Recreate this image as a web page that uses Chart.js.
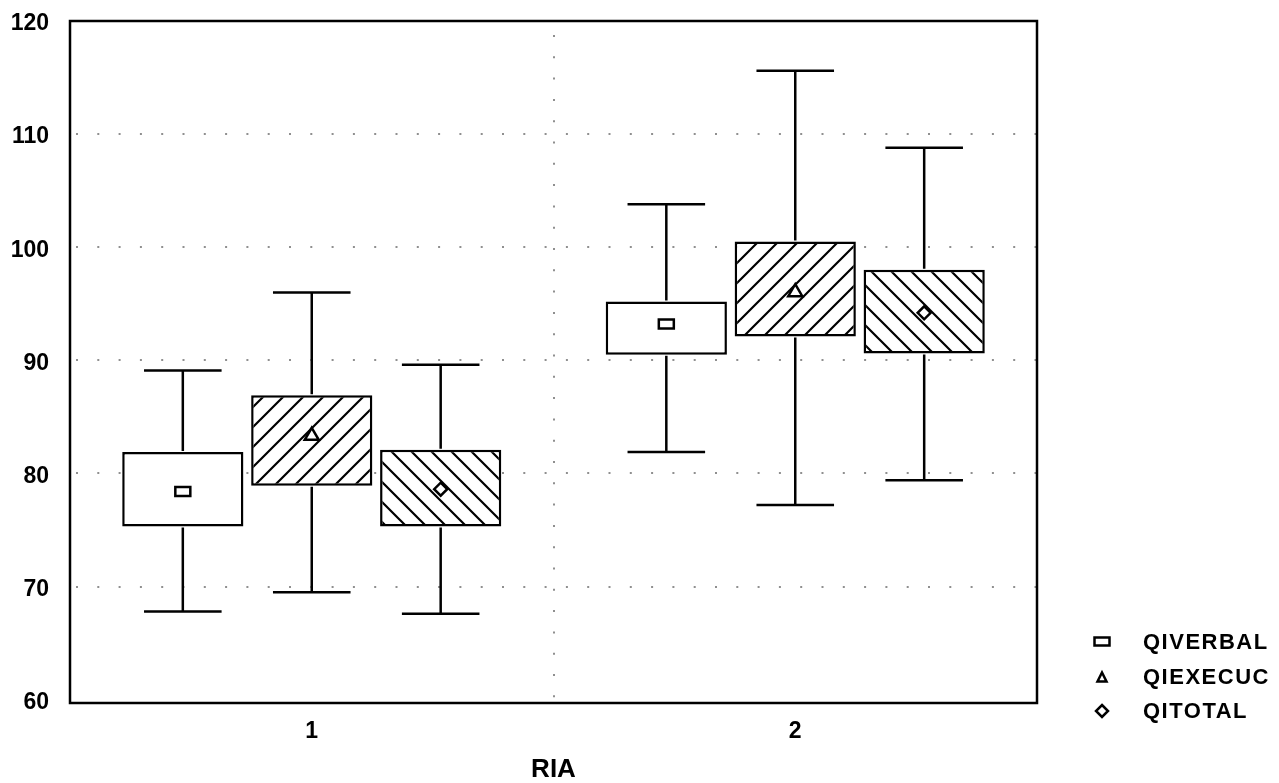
<!DOCTYPE html>
<html lang="pt">
<head>
    <meta charset="UTF-8">
    <title>RIA - QI</title>
    <script src="https://cdn.jsdelivr.net/npm/chart.js"></script>
    <style>
        html, body { margin: 0; padding: 0; background: #ffffff; }
        .chart-box { width: 1279px; height: 783px; }
    </style>
</head>
<body>
    <div class="chart-box"><canvas id="riaChart"></canvas></div>

    <script>
        const categories = ['1', '2'];
        const seriesNames = ['QIVERBAL', 'QIEXECUC', 'QITOTAL'];

        // mean, box [low, high], whisker [low, high]
        const qiverbalMean = [78.4, 93.2];
        const qiverbalBox = [[75.3, 81.9], [90.5, 95.2]];
        const qiverbalWhisker = [[67.8, 89.1], [81.9, 103.8]];

        const qiexecucMean = [83.5, 96.2];
        const qiexecucBox = [[78.9, 86.9], [92.1, 100.5]];
        const qiexecucWhisker = [[69.5, 96.0], [77.2, 115.6]];

        const qitotalMean = [78.6, 94.2];
        const qitotalBox = [[75.3, 82.1], [90.6, 98.0]];
        const qitotalWhisker = [[67.6, 89.6], [79.4, 108.8]];

        const meanSets = [qiverbalMean, qiexecucMean, qitotalMean];
        const boxSets = [qiverbalBox, qiexecucBox, qitotalBox];
        const whiskerSets = [qiverbalWhisker, qiexecucWhisker, qitotalWhisker];
        const markers = ['rect', 'triangle', 'diamond'];

        const font = '"Liberation Sans", Arial, sans-serif';

        // hatch fill on white
        function hatch(dir) {
            const s = 20;
            const c = document.createElement('canvas');
            c.width = s; c.height = s;
            const g = c.getContext('2d');
            g.fillStyle = '#fff';
            g.fillRect(0, 0, s, s);
            g.strokeStyle = '#000';
            g.lineWidth = 2.2;
            g.beginPath();
            if (dir === '/') {
                g.moveTo(-2, s + 2); g.lineTo(s + 2, -2);
                g.moveTo(-3, 3); g.lineTo(3, -3);
                g.moveTo(s - 3, s + 3); g.lineTo(s + 3, s - 3);
            } else {
                g.moveTo(-2, -2); g.lineTo(s + 2, s + 2);
                g.moveTo(s - 3, -3); g.lineTo(s + 3, 3);
                g.moveTo(-3, s - 3); g.lineTo(3, s + 3);
            }
            g.stroke();
            return g.createPattern(c, 'repeat');
        }

        const fills = ['#ffffff', hatch('/'), hatch('\\')];

        function drawMarker(ctx, kind, x, y, big) {
            ctx.save();
            ctx.fillStyle = '#fff';
            ctx.strokeStyle = '#000';
            ctx.lineWidth = 2.5;
            ctx.beginPath();
            if (kind === 'rect') {
                ctx.rect(x - 7.5, y - 4.5, 15, big ? 9 : 8);
            } else if (kind === 'triangle') {
                const w = big ? 7 : 4.5, h = big ? 6 : 4.5;
                ctx.moveTo(x, y - h);
                ctx.lineTo(x + w, y + h);
                ctx.lineTo(x - w, y + h);
                ctx.closePath();
            } else {
                const r = big ? 6.5 : 6;
                ctx.moveTo(x, y - r);
                ctx.lineTo(x + r, y);
                ctx.lineTo(x, y + r);
                ctx.lineTo(x - r, y);
                ctx.closePath();
            }
            ctx.fill();
            ctx.stroke();
            ctx.restore();
        }

        // whiskers, means, frame and legend
        const boxExtras = {
            id: 'boxExtras',
            afterDatasetsDraw(chart) {
                const ctx = chart.ctx;
                const y = chart.scales.y;
                chart.data.datasets.forEach((ds, i) => {
                    const meta = chart.getDatasetMeta(i);
                    meta.data.forEach((bar, j) => {
                        const x = bar.x;
                        const half = bar.width * 0.32;
                        const wLow = y.getPixelForValue(ds.whisker[j][0]);
                        const wHigh = y.getPixelForValue(ds.whisker[j][1]);
                        const bLow = y.getPixelForValue(ds.data[j][0]);
                        const bHigh = y.getPixelForValue(ds.data[j][1]);
                        ctx.save();
                        ctx.strokeStyle = '#000';
                        ctx.lineWidth = 2.5;
                        ctx.beginPath();
                        ctx.moveTo(x, bHigh - 1); ctx.lineTo(x, wHigh);
                        ctx.moveTo(x - half, wHigh); ctx.lineTo(x + half, wHigh);
                        ctx.moveTo(x, bLow + 1); ctx.lineTo(x, wLow);
                        ctx.moveTo(x - half, wLow); ctx.lineTo(x + half, wLow);
                        ctx.stroke();
                        ctx.restore();
                        drawMarker(ctx, ds.marker, x, y.getPixelForValue(ds.mean[j]), true);
                    });
                });

                const a = chart.chartArea;
                ctx.save();
                ctx.strokeStyle = '#000';
                ctx.lineWidth = 2.5;
                ctx.strokeRect(a.left, a.top, a.right - a.left, a.bottom - a.top);
                ctx.restore();
            },
            afterDraw(chart) {
                const ctx = chart.ctx;
                const rows = [642, 677, 711];
                ctx.save();
                ctx.font = 'bold 22px ' + font;
                ctx.fillStyle = '#000';
                ctx.textBaseline = 'middle';
                ctx.letterSpacing = '1.5px';
                chart.data.datasets.forEach((ds, i) => {
                    drawMarker(ctx, ds.marker, 1102, rows[i], false);
                    ctx.fillText(ds.label, 1143, rows[i] + 1);
                });
                ctx.restore();
            }
        };

        new Chart(document.getElementById('riaChart'), {
            type: 'bar',
            data: {
                labels: categories,
                datasets: seriesNames.map((name, i) => ({
                    label: name,
                    data: boxSets[i],
                    whisker: whiskerSets[i],
                    mean: meanSets[i],
                    marker: markers[i],
                    backgroundColor: fills[i],
                    borderColor: '#000',
                    borderWidth: 2.5,
                    borderSkipped: false,
                    barPercentage: 0.94,
                    categoryPercentage: 0.8
                }))
            },
            options: {
                responsive: true,
                maintainAspectRatio: false,
                animation: false,
                layout: { padding: { top: 21, right: 242, bottom: 0, left: 0 } },
                plugins: {
                    legend: { display: false },
                    tooltip: { enabled: false }
                },
                scales: {
                    x: {
                        offset: true,
                        grid: { offset: true, color: '#8f8f8f', lineWidth: 2, drawTicks: false },
                        border: { display: false, dash: [2, 19.3], dashOffset: -14 },
                        ticks: { color: '#000', padding: 15, font: { family: font, size: 23, weight: 'bold' } },
                        title: {
                            display: true,
                            text: 'RIA',
                            color: '#000',
                            padding: 0,
                            font: { family: font, size: 26, weight: 'bold', lineHeight: 1 }
                        },
                        afterFit: s => { s.height = 80; s.paddingLeft = 0; s.paddingRight = 0; }
                    },
                    y: {
                        min: 59.7,
                        max: 120,
                        grid: {
                            color: c => (c.tick && (c.tick.value === 60 || c.tick.value === 120)) ? 'rgba(0,0,0,0)' : '#8f8f8f',
                            lineWidth: 2,
                            drawTicks: false
                        },
                        border: { display: false, dash: [2, 19.3], dashOffset: -6 },
                        ticks: {
                            stepSize: 10,
                            includeBounds: false,
                            color: '#000',
                            padding: 21,
                            labelOffset: 3,
                            font: { family: font, size: 23, weight: 'bold' }
                        },
                        afterFit: s => { s.width = 70; s.paddingTop = 0; s.paddingBottom = 0; }
                    }
                }
            },
            plugins: [boxExtras]
        });
    </script>
</body>
</html>
